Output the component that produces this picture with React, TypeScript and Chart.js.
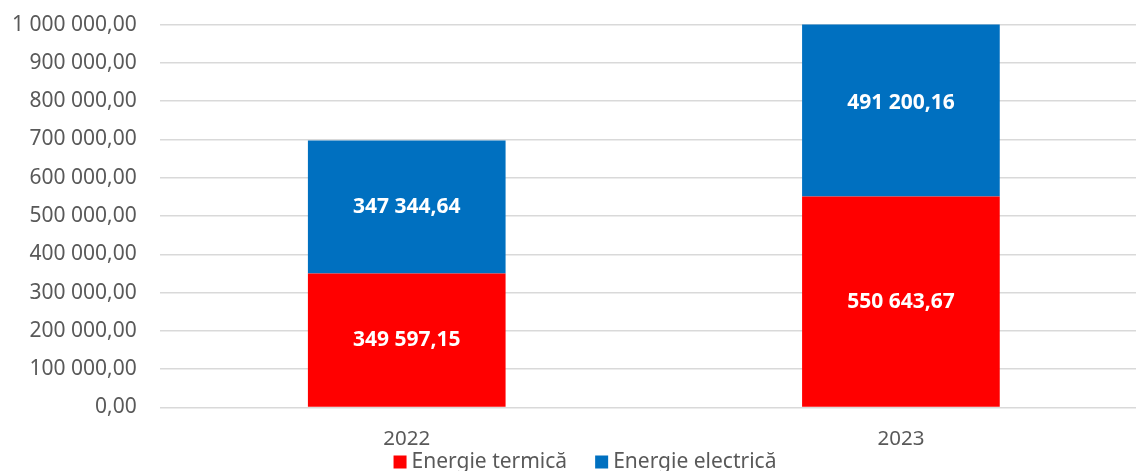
import React, { useEffect, useRef } from "react";
import { Chart, registerables } from "chart.js";

Chart.register(...registerables);

const categories = ["2022", "2023"];
const termica = [349597.15, 550643.67];
const electrica = [347344.64, 491200.16];
const seriesNames = ["Energie termică", "Energie electrică"];
const seriesColors = ["#FF0000", "#0070C0"];
const yMax = 1000000;
const yStep = 100000;

const FONT = "'Noto Sans', sans-serif";
const TEXT = "#595959";
const SHIFT_X = 11;
const SHIFT_Y = 11;

function fmt(v: number, dec = 2): string {
  const fixed = v.toFixed(dec);
  const [intPart, decPart] = fixed.split(".");
  const grouped = intPart.replace(/\B(?=(\d{3})+(?!\d))/g, " ");
  return decPart ? grouped + "," + decPart : grouped;
}

const labelPlugin = {
  id: "segLabels",
  afterDatasetsDraw(chart: any) {
    const ctx = chart.ctx;
    const y = chart.scales.y;
    ctx.save();
    ctx.fillStyle = "#FFFFFF";
    ctx.font = `bold 21px ${FONT}`;
    ctx.textAlign = "center";
    ctx.textBaseline = "middle";
    chart.data.labels.forEach((_: any, i: number) => {
      let base = 0;
      chart.data.datasets.forEach((ds: any, di: number) => {
        const meta = chart.getDatasetMeta(di);
        const el = meta.data[i];
        const v = ds.data[i];
        const top = base + v;
        const cy = (y.getPixelForValue(base) + y.getPixelForValue(top)) / 2;
        ctx.fillText(fmt(v), el.x, cy);
        base = top;
      });
    });
    ctx.restore();
  },
};

const legendPlugin = {
  id: "bottomLegend",
  afterDraw(chart: any) {
    const ctx = chart.ctx;
    ctx.save();
    ctx.font = `21px ${FONT}`;
    ctx.textBaseline = "middle";
    ctx.textAlign = "left";
    const box = 13;
    const gapBoxText = 5;
    const gapItems = 28;
    const widths = chart.data.datasets.map((ds: any) => ctx.measureText(ds.label).width);
    const total = widths.reduce((a: number, w: number) => a + box + gapBoxText + w, 0) + gapItems * (widths.length - 1);
    const center = 585 + SHIFT_X;
    const cy = 462 + SHIFT_Y;
    let x = center - total / 2;
    chart.data.datasets.forEach((ds: any, i: number) => {
      ctx.fillStyle = ds.backgroundColor;
      ctx.fillRect(x, cy - box / 2, box, box);
      x += box + gapBoxText;
      ctx.fillStyle = TEXT;
      ctx.fillText(ds.label, x, cy);
      x += widths[i] + gapItems;
    });
    ctx.restore();
  },
};

export default function App() {
  const ref = useRef<HTMLCanvasElement>(null);
  useEffect(() => {
    if (!ref.current) return;
    const chart = new Chart(ref.current, {
      type: "bar",
      data: {
        labels: categories,
        datasets: [
          { label: seriesNames[0], data: termica, backgroundColor: seriesColors[0], barPercentage: 0.4, categoryPercentage: 1 },
          { label: seriesNames[1], data: electrica, backgroundColor: seriesColors[1], barPercentage: 0.4, categoryPercentage: 1 },
        ],
      },
      options: {
        responsive: false,
        animation: false,
        maintainAspectRatio: false,
        layout: { padding: { left: 0, right: 0, top: 2, bottom: 9 } },
        plugins: {
          legend: { display: false },
          tooltip: { enabled: false },
        },
        scales: {
          x: {
            stacked: true,
            grid: { display: false },
            border: { display: false },
            ticks: { color: TEXT, font: { family: FONT, size: 20.5 }, padding: 11 },
          },
          y: {
            stacked: true,
            min: 0,
            max: yMax,
            grid: { color: "#D9D9D9", lineWidth: 1.5, drawTicks: false },
            border: { display: false },
            ticks: {
              stepSize: yStep,
              color: TEXT,
              font: { family: FONT, size: 21 },
              padding: 23,
              callback: (v: any) => fmt(Number(v)),
            },
          },
        },
      },
      plugins: [labelPlugin, legendPlugin],
    });
    return () => chart.destroy();
  }, []);
  return (
    <div style={{ position: "fixed", left: 0, top: 0, width: 1136, height: 471, overflow: "hidden", background: "#fff" }}>
      <canvas
        ref={ref}
        width={1159}
        height={471 + SHIFT_Y}
        style={{ display: "block", marginLeft: -SHIFT_X, marginTop: -SHIFT_Y }}
      />
    </div>
  );
}
